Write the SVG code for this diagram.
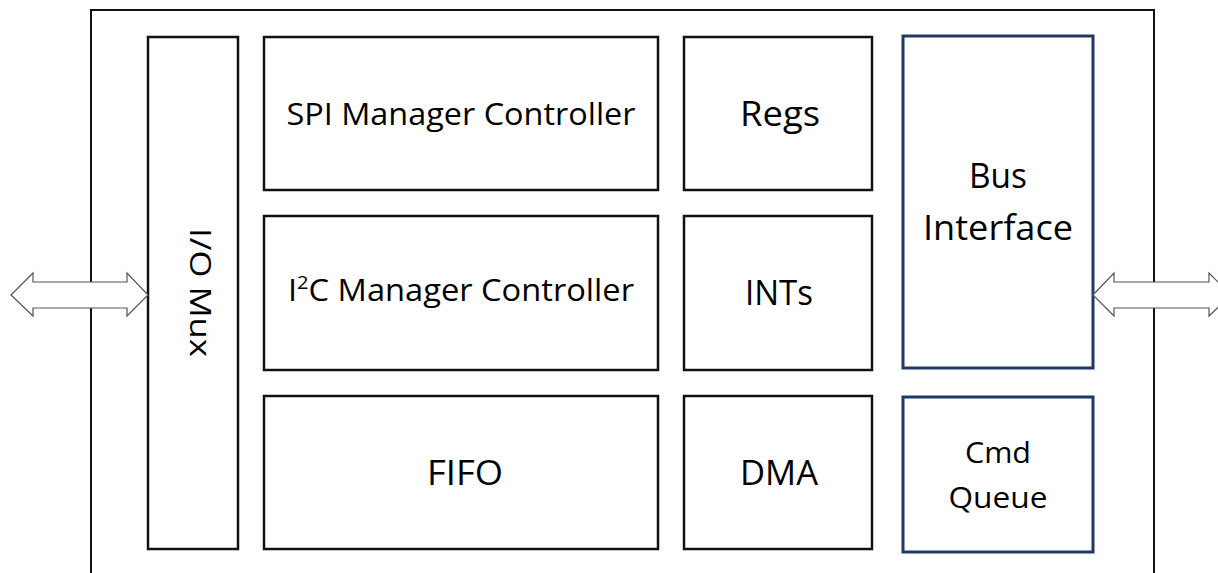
<svg xmlns="http://www.w3.org/2000/svg" width="1218" height="573" viewBox="0 0 1218 573">
<style>
.blk{fill:#fff;stroke:#111;stroke-width:2.5}
.nav{fill:#fff;stroke:#1f3864;stroke-width:3}
.arr{fill:#fff;stroke:#555;stroke-width:1.2;stroke-linejoin:miter}
text{font-family:"Open Sans","Liberation Sans",sans-serif;fill:#000;text-anchor:middle}
.t{font-size:31px}
.s{font-size:35px}
.b{font-size:35px}
.c{font-size:30px}
</style>
<rect x="91" y="10" width="1063" height="580" fill="#fff" stroke="#111" stroke-width="2"/>
<g id="iomux"><rect class="blk" x="148" y="37" width="90" height="512"/>
<text class="c" transform="translate(190,292.5) rotate(90)" x="0" y="0" textLength="129" lengthAdjust="spacingAndGlyphs">I/O Mux</text></g>
<g id="spi"><rect class="blk" x="264" y="37" width="394" height="153"/>
<text class="t" x="461" y="125" textLength="349" lengthAdjust="spacingAndGlyphs">SPI Manager Controller</text></g>
<g id="i2c"><rect class="blk" x="264" y="216" width="394" height="154"/>
<text class="t" x="461" y="301" textLength="346" lengthAdjust="spacingAndGlyphs">I<tspan font-size="19" dy="-12">2</tspan><tspan dy="12">C Manager Controller</tspan></text></g>
<g id="fifo"><rect class="blk" x="264" y="396" width="394" height="153"/>
<text class="s" x="465" y="485" textLength="76" lengthAdjust="spacingAndGlyphs">FIFO</text></g>
<g id="regs"><rect class="blk" x="684" y="37" width="188" height="153"/>
<text class="s" x="780" y="126" textLength="80" lengthAdjust="spacingAndGlyphs">Regs</text></g>
<g id="ints"><rect class="blk" x="684" y="216" width="188" height="154"/>
<text class="s" x="779" y="305" textLength="68" lengthAdjust="spacingAndGlyphs">INTs</text></g>
<g id="dma"><rect class="blk" x="684" y="396" width="188" height="153"/>
<text class="s" x="779" y="485" textLength="78" lengthAdjust="spacingAndGlyphs">DMA</text></g>
<g id="bus"><rect class="nav" x="903" y="36" width="190" height="332"/>
<text class="b" x="998" y="188" textLength="58" lengthAdjust="spacingAndGlyphs">Bus</text>
<text class="b" x="998" y="240" textLength="150" lengthAdjust="spacingAndGlyphs">Interface</text></g>
<g id="cmd"><rect class="nav" x="903" y="397" width="190" height="155"/>
<text class="c" x="998" y="463" textLength="66" lengthAdjust="spacingAndGlyphs">Cmd</text>
<text class="c" x="998" y="508" textLength="99" lengthAdjust="spacingAndGlyphs">Queue</text></g>
<g id="connectors">
<polygon class="arr" points="11,295 33,273 33,282 127,282 127,273 148,295 127,316 127,308 33,308 33,316"/>
<polygon class="arr" points="1093,295 1114,273 1114,282 1209,282 1209,273 1231,295 1209,316 1209,308 1114,308 1114,316"/>
</g>
</svg>
